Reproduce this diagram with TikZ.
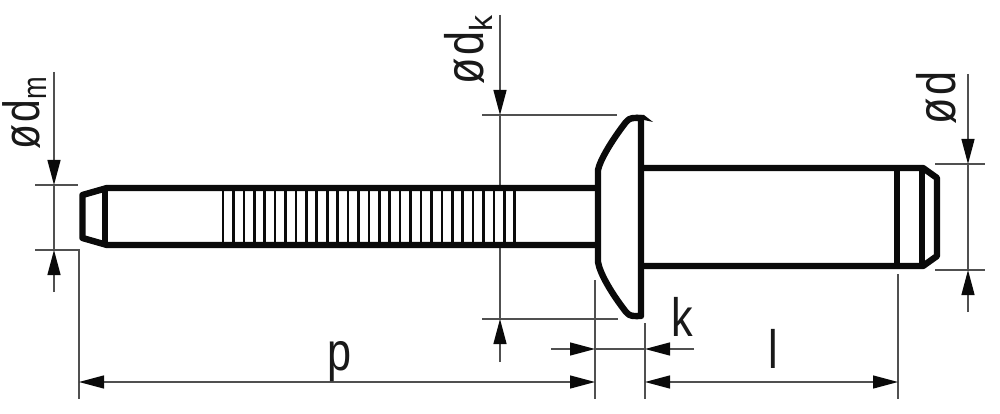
\documentclass[tikz,border=0pt]{standalone}
\usepackage{fontspec}
\setmainfont[FakeStretch=0.8]{Liberation Sans}
\newfontfamily\widef{Liberation Sans}
\usetikzlibrary{arrows.meta}
\definecolor{dimgray}{HTML}{505050}
\definecolor{inkc}{HTML}{0A0A0A}
\tikzset{
  thick outline/.style={draw=inkc,line width=6.4pt,line join=round,line cap=butt},
  groove/.style={draw=inkc,line width=2.6pt},
  dimline/.style={draw=dimgray,line width=1.3pt},
  tip/.style={-{Triangle[length=25pt,width=13pt,color=inkc]}},
  both tips/.style={{Triangle[length=25pt,width=13pt,color=inkc]}-{Triangle[length=25pt,width=13pt,color=inkc]}},
  lab/.style={inner sep=0pt,text=black!90,font=\fontsize{54}{54}\selectfont},
}
\begin{document}
\begin{tikzpicture}[x=1pt,y=-1pt]
\useasboundingbox (0,0) rectangle (1000,414);
% extension lines
\draw[dimline] (35,185) -- (78,185);
\draw[dimline] (35,250) -- (79,250) -- (79,399);
\draw[dimline] (482,115) -- (617,115);
\draw[dimline] (482,319) -- (618,319);
\draw[dimline] (595,280) -- (595,399);
\draw[dimline] (645,323) -- (645,399);
\draw[dimline] (898,274) -- (898,399);
\draw[dimline] (935,164) -- (985,164);
\draw[dimline] (935,270) -- (985,270);
% dimension lines with arrows
\draw[dimline,tip] (54,72) -- (54,185);
\draw[dimline,tip] (54,292) -- (54,250);
\draw[dimline] (54,185) -- (54,250);
\draw[dimline,tip] (500,15) -- (500,115);
\draw[dimline] (500,115) -- (500,319);
\draw[dimline,tip] (500,362) -- (500,319);
\draw[dimline,tip] (551,349) -- (595,349);
\draw[dimline,tip] (694,349) -- (645,349);
\draw[dimline] (595,349) -- (645,349);
\draw[dimline,both tips] (79,382) -- (595,382);
\draw[dimline,both tips] (645,382) -- (898,382);
\draw[dimline,tip] (968,74) -- (968,164);
\draw[dimline] (968,164) -- (968,270);
\draw[dimline,tip] (968,312) -- (968,270);
% mandrel
\fill[white] (107,188) rectangle (598,245);
\foreach \k in {0,...,28} \draw[groove] ({223+10.42*\k},188) -- ({223+10.42*\k},245);
\draw[thick outline] (598,188) -- (107,188) -- (82.5,195) -- (82.5,238) -- (107,245) -- (598,245);
\draw[thick outline] (105,188) -- (105,245);
% head
\draw[thick outline,line cap=round] (598,170) .. controls (600,160) and (612,140) .. (626,122) .. controls (630,117) and (634,118) .. (641,118) -- (641,316) .. controls (634,316) and (630,317) .. (626,312) .. controls (612,294) and (600,274) .. (598,262) -- cycle;
\fill[inkc] (636,115) -- (644,115) -- (653,122) -- (644,120) -- cycle;
% body
\draw[thick outline] (644,168) -- (923,168) -- (937,178) -- (937,256) -- (923,266) -- (644,266);
\draw[thick outline] (897,168) -- (897,266);
\draw[thick outline] (922,168) -- (922,266);
% labels
\node[lab,rotate=90,anchor=base west,font=\fontsize{51}{51}\selectfont] (dm) at (39,150) {ø\kern2.5pt d\raisebox{-7pt}{\fontsize{34}{34}\selectfont m}};
\node[lab,rotate=90,anchor=base west] (dk) at (483,85) {ø\kern2.5pt d\raisebox{-9pt}{\widef\fontsize{32}{32}\selectfont k}};
\node[lab,rotate=90,anchor=base west] (d) at (955,125) {ø\kern2.5pt d};
\node[lab,anchor=base] (p) at (340,370) {p};
\node[lab,anchor=base] (k) at (682,336) {k};
\node[lab,anchor=base] (l) at (773,368) {l};
\end{tikzpicture}
\end{document}
